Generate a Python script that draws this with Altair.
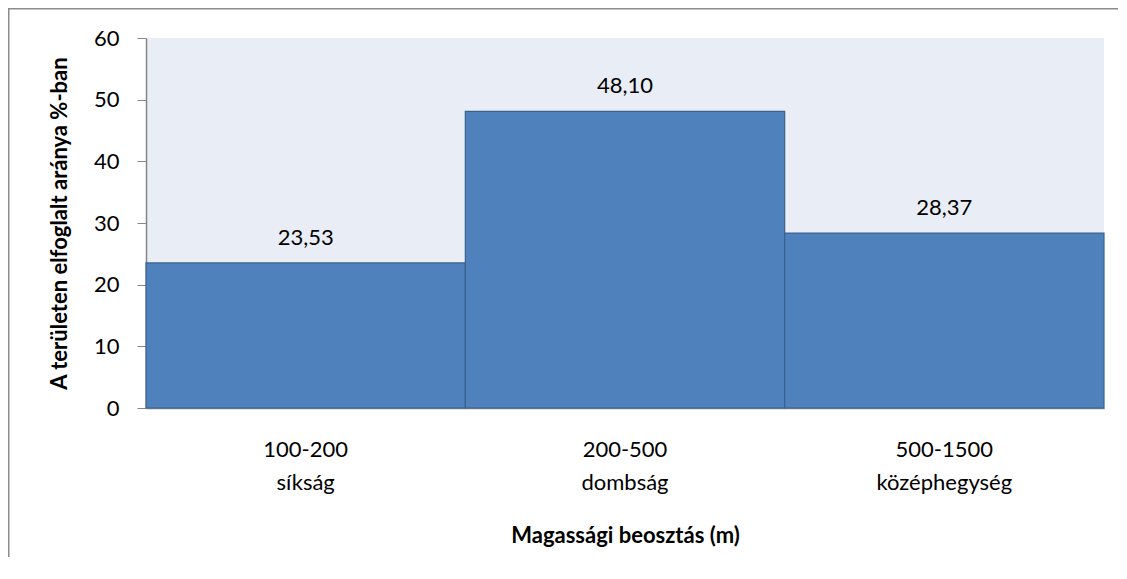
import altair as alt
import pandas as pd

ranges = ["100-200", "200-500", "500-1500"]
names = ["síkság", "dombság", "középhegység"]
shares = [23.53, 48.10, 28.37]

df = pd.DataFrame({
    "cat": [f"{r}|{n}" for r, n in zip(ranges, names)],
    "value": shares,
})

FONT = "Lato"

x_enc = alt.X(
    "cat:N",
    sort=None,
    scale=alt.Scale(paddingInner=0, paddingOuter=0),
    axis=alt.Axis(
        title="Magassági beosztás (m)",
        labelExpr="split(datum.label, '|')",
        labelAngle=0,
        labelFontSize=22,
        labelLineHeight=33,
        labelPadding=31,
        labelColor="#000000",
        labelFont=FONT,
        ticks=False,
        domainColor="#868686",
        domainWidth=1.5,
        titleFontSize=22,
        titleFont=FONT,
        titleFontWeight="bold",
        titlePadding=32,
        titleColor="#000000",
    ),
)
y_enc = alt.Y(
    "value:Q",
    scale=alt.Scale(domain=[0, 60]),
    axis=alt.Axis(
        title="A területen elfoglalt aránya %-ban",
        values=[0, 10, 20, 30, 40, 50, 60],
        grid=False,
        tickSize=9,
        tickColor="#868686",
        domainColor="#868686",
        domainWidth=1.5,
        labelFontSize=22,
        labelFont=FONT,
        labelColor="#000000",
        labelPadding=18,
        titleFontSize=22,
        titleFont=FONT,
        titleFontWeight="bold",
        titleColor="#000000",
        titlePadding=22,
    ),
)

bars = alt.Chart(df).mark_bar(
    color="#4F81BD", stroke="#3A618F", strokeWidth=1.2
).encode(x=x_enc, y=y_enc)

labels = alt.Chart(df).transform_calculate(
    lab="replace(format(datum.value, '.2f'), '.', ',')"
).mark_text(
    fontSize=22, font=FONT, color="#000000", dy=-18, baseline="alphabetic"
).encode(x=alt.X("cat:N", sort=None), y="value:Q", text="lab:N")

frame_df = pd.DataFrame({"k": [0]})
top_line = alt.Chart(frame_df).mark_rect(color="#8C8C8C").encode(
    x=alt.value(-138), x2=alt.value(972), y=alt.value(-30), y2=alt.value(-28.5)
)
left_line = alt.Chart(frame_df).mark_rect(color="#8C8C8C").encode(
    x=alt.value(-138), x2=alt.value(-136.5), y=alt.value(-30), y2=alt.value(519)
)

chart = alt.layer(bars, labels, top_line, left_line).properties(
    width=958,
    height=370,
    padding={"left": 138, "top": 30, "right": 15, "bottom": 150},
    autosize=alt.AutoSizeParams(type="none"),
    background="#FFFFFF",
).configure_view(
    fill="#E9EDF5", stroke=None
)

chart.save("out.html", embed_options={"renderer": "svg", "actions": False})
